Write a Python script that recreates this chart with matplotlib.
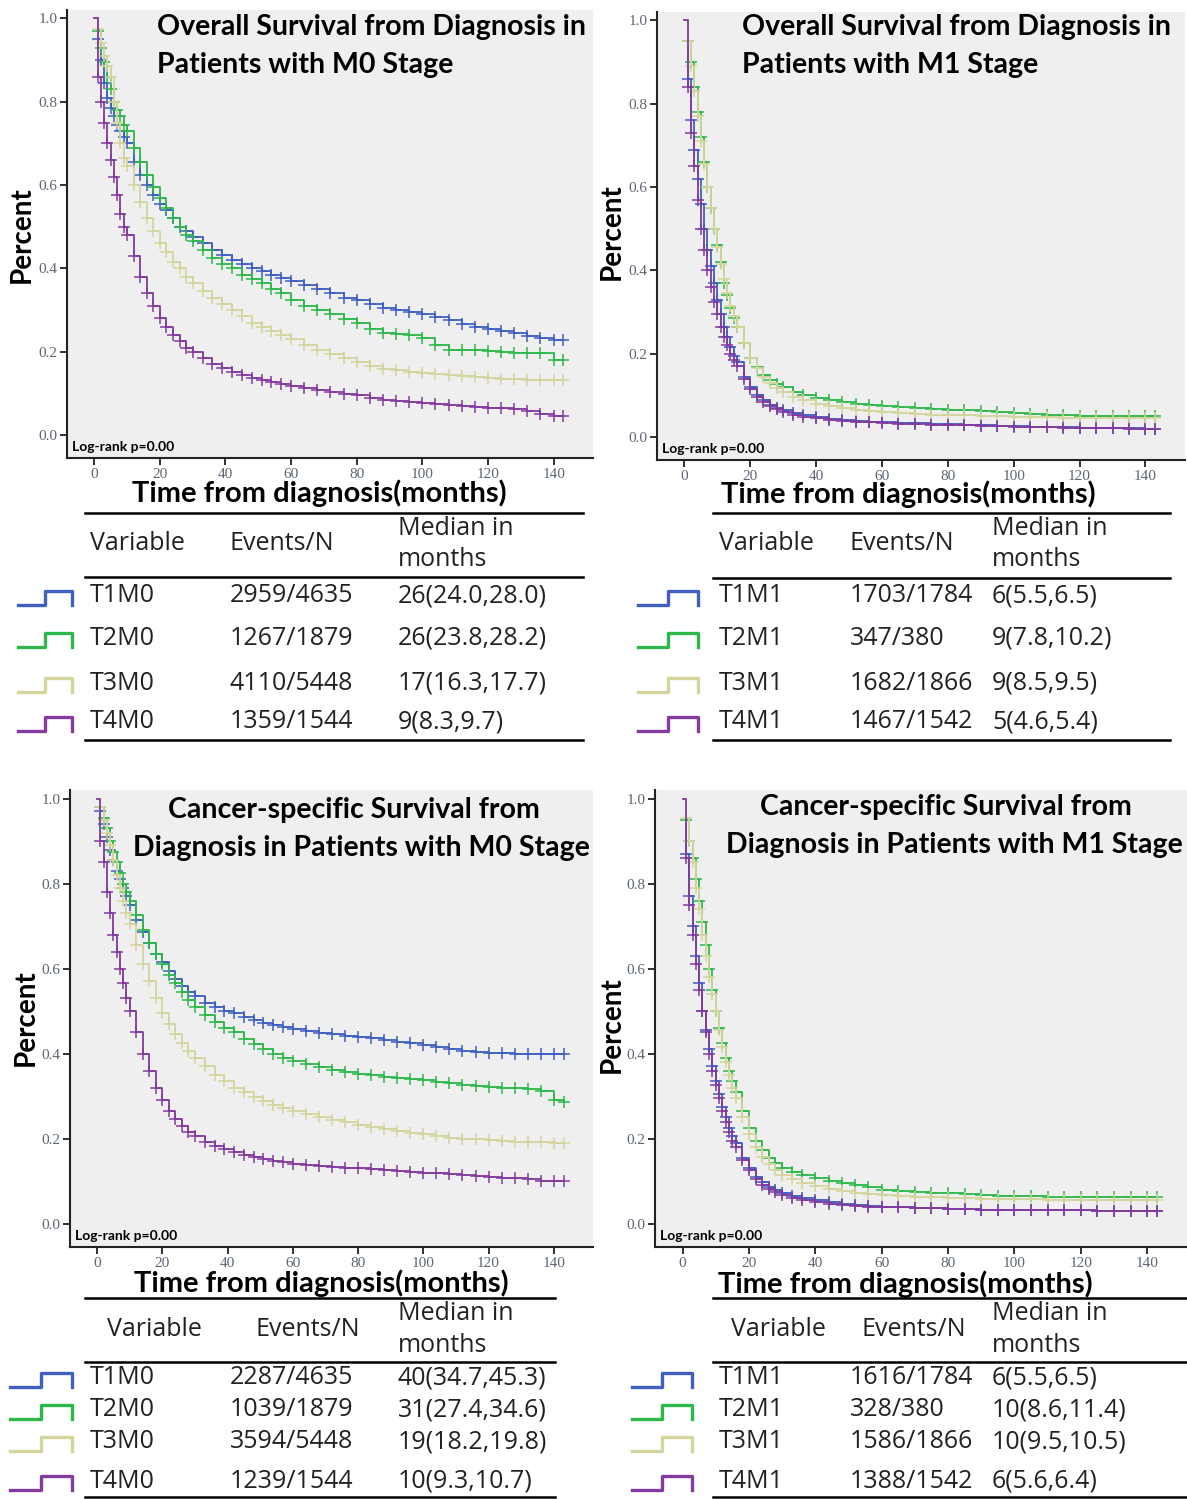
import numpy as np
import matplotlib
matplotlib.use('Agg')
import matplotlib.pyplot as plt
from matplotlib.lines import Line2D

# ---- survival tables (month, survival) ----
t_m0 = [0, 1, 2, 3, 4, 5, 6, 7, 8, 9, 10, 12, 14, 16, 18, 20, 22, 24, 26, 28, 30,
        33, 36, 39, 42, 45, 48, 51, 54, 57, 60, 64, 68, 72, 76, 80, 84, 88, 92, 96, 100,
        104, 108, 112, 116, 120, 124, 128, 132, 136, 140, 143]
t_m1 = [0, 1, 2, 3, 4, 5, 6, 7, 8, 9, 10, 11, 12, 13, 14, 15, 16, 18, 20, 22, 24, 26, 28, 30,
        33, 36, 40, 44, 48, 52, 56, 60, 65, 70, 75, 80, 85, 90, 95, 100,
        105, 110, 115, 120, 125, 130, 135, 140, 143]

# overall survival, M0
os_m0_t1 = [1.0, 0.95, 0.90, 0.845, 0.81, 0.785, 0.765, 0.745, 0.73, 0.715, 0.70, 0.655, 0.625, 0.60,
            0.575, 0.555, 0.54, 0.52, 0.50, 0.49, 0.475, 0.46, 0.445, 0.432, 0.42, 0.41, 0.40, 0.393,
            0.385, 0.377, 0.37, 0.36, 0.35, 0.34, 0.33, 0.323, 0.315, 0.305, 0.30, 0.295, 0.29,
            0.283, 0.275, 0.267, 0.26, 0.255, 0.25, 0.245, 0.238, 0.233, 0.228, 0.227]
os_m0_t2 = [1.0, 0.97, 0.93, 0.895, 0.86, 0.83, 0.80, 0.78, 0.765, 0.745, 0.73, 0.69, 0.655, 0.625,
            0.595, 0.57, 0.545, 0.52, 0.50, 0.48, 0.465, 0.445, 0.425, 0.41, 0.40, 0.385, 0.375, 0.365,
            0.35, 0.34, 0.325, 0.31, 0.30, 0.29, 0.278, 0.27, 0.255, 0.246, 0.243, 0.24, 0.232,
            0.215, 0.205, 0.203, 0.203, 0.202, 0.20, 0.198, 0.197, 0.196, 0.18, 0.18]
os_m0_t3 = [1.0, 0.975, 0.94, 0.91, 0.885, 0.86, 0.80, 0.75, 0.70, 0.665, 0.645, 0.60, 0.56, 0.52,
            0.49, 0.46, 0.44, 0.415, 0.40, 0.38, 0.365, 0.345, 0.33, 0.315, 0.30, 0.285, 0.27, 0.26,
            0.25, 0.24, 0.23, 0.215, 0.205, 0.195, 0.185, 0.175, 0.165, 0.158, 0.155, 0.152, 0.15,
            0.147, 0.145, 0.142, 0.14, 0.137, 0.135, 0.134, 0.133, 0.132, 0.132, 0.132]
os_m0_t4 = [1.0, 0.86, 0.80, 0.75, 0.70, 0.66, 0.62, 0.575, 0.53, 0.50, 0.48, 0.43, 0.38, 0.34,
            0.31, 0.28, 0.26, 0.24, 0.225, 0.21, 0.20, 0.185, 0.17, 0.16, 0.152, 0.145, 0.137, 0.132,
            0.127, 0.122, 0.118, 0.112, 0.107, 0.103, 0.099, 0.095, 0.09, 0.085, 0.082, 0.079, 0.077,
            0.074, 0.072, 0.07, 0.068, 0.066, 0.064, 0.062, 0.057, 0.05, 0.045, 0.045]

# overall survival, M1
os_m1_t1 = [1.0, 0.86, 0.76, 0.69, 0.62, 0.56, 0.50, 0.45, 0.41, 0.37, 0.33, 0.295, 0.265, 0.24,
            0.215, 0.195, 0.18, 0.145, 0.12, 0.10, 0.088, 0.078, 0.07, 0.064, 0.057, 0.052, 0.047,
            0.043, 0.04, 0.038, 0.036, 0.035, 0.034, 0.033, 0.032, 0.031, 0.03, 0.028, 0.027, 0.026,
            0.025, 0.024, 0.023, 0.022, 0.022, 0.021, 0.021, 0.02, 0.02]
os_m1_t2 = [1.0, 0.95, 0.90, 0.84, 0.78, 0.72, 0.66, 0.60, 0.55, 0.50, 0.46, 0.42, 0.37, 0.34,
            0.31, 0.285, 0.265, 0.225, 0.19, 0.168, 0.15, 0.138, 0.128, 0.12, 0.108, 0.10, 0.093,
            0.088, 0.084, 0.08, 0.077, 0.074, 0.072, 0.07, 0.068, 0.066, 0.064, 0.062, 0.06, 0.058,
            0.055, 0.053, 0.052, 0.05, 0.05, 0.05, 0.05, 0.05, 0.05]
os_m1_t3 = [1.0, 0.95, 0.89, 0.83, 0.77, 0.71, 0.655, 0.60, 0.55, 0.50, 0.455, 0.415, 0.38, 0.345,
            0.315, 0.29, 0.265, 0.225, 0.19, 0.165, 0.145, 0.13, 0.118, 0.108, 0.097, 0.088, 0.08,
            0.074, 0.07, 0.066, 0.063, 0.06, 0.058, 0.056, 0.054, 0.053, 0.052, 0.05, 0.05, 0.049,
            0.048, 0.047, 0.046, 0.045, 0.045, 0.045, 0.045, 0.045, 0.045]
os_m1_t4 = [1.0, 0.84, 0.73, 0.65, 0.57, 0.50, 0.45, 0.40, 0.36, 0.325, 0.295, 0.265, 0.24, 0.22,
            0.20, 0.185, 0.17, 0.14, 0.115, 0.097, 0.085, 0.075, 0.067, 0.06, 0.054, 0.049, 0.045,
            0.042, 0.039, 0.037, 0.035, 0.033, 0.032, 0.031, 0.03, 0.029, 0.028, 0.027, 0.026, 0.025,
            0.024, 0.023, 0.022, 0.022, 0.021, 0.021, 0.02, 0.02, 0.02]

# cancer-specific survival, M0
css_m0_t1 = [1.0, 0.97, 0.94, 0.91, 0.88, 0.855, 0.83, 0.81, 0.79, 0.77, 0.75, 0.715, 0.685, 0.66,
             0.635, 0.615, 0.595, 0.575, 0.56, 0.545, 0.535, 0.52, 0.51, 0.50, 0.495, 0.487, 0.48,
             0.473, 0.467, 0.462, 0.458, 0.452, 0.448, 0.445, 0.442, 0.44, 0.436, 0.432, 0.428, 0.424,
             0.42, 0.415, 0.41, 0.407, 0.404, 0.402, 0.401, 0.40, 0.40, 0.40, 0.40, 0.40]
css_m0_t2 = [1.0, 0.98, 0.955, 0.93, 0.90, 0.875, 0.85, 0.825, 0.80, 0.78, 0.76, 0.725, 0.69, 0.66,
             0.635, 0.61, 0.585, 0.565, 0.545, 0.525, 0.51, 0.49, 0.475, 0.46, 0.45, 0.435, 0.422,
             0.41, 0.40, 0.39, 0.383, 0.375, 0.368, 0.362, 0.357, 0.353, 0.35, 0.345, 0.342, 0.34,
             0.337, 0.333, 0.33, 0.327, 0.324, 0.322, 0.32, 0.318, 0.316, 0.313, 0.29, 0.285]
css_m0_t3 = [1.0, 0.98, 0.95, 0.92, 0.89, 0.855, 0.82, 0.79, 0.76, 0.73, 0.705, 0.655, 0.61, 0.57,
             0.53, 0.495, 0.47, 0.445, 0.425, 0.405, 0.39, 0.37, 0.35, 0.335, 0.32, 0.31, 0.298,
             0.288, 0.279, 0.272, 0.265, 0.257, 0.25, 0.244, 0.238, 0.233, 0.228, 0.222, 0.217, 0.213,
             0.21, 0.205, 0.202, 0.2, 0.198, 0.196, 0.194, 0.193, 0.192, 0.191, 0.19, 0.19]
css_m0_t4 = [1.0, 0.90, 0.85, 0.78, 0.73, 0.68, 0.64, 0.60, 0.565, 0.53, 0.50, 0.45, 0.40, 0.36,
             0.32, 0.29, 0.265, 0.245, 0.23, 0.215, 0.205, 0.192, 0.182, 0.175, 0.168, 0.162, 0.157,
             0.152, 0.148, 0.144, 0.14, 0.137, 0.135, 0.133, 0.131, 0.13, 0.128, 0.126, 0.124, 0.122,
             0.12, 0.118, 0.116, 0.114, 0.112, 0.11, 0.108, 0.107, 0.105, 0.1, 0.1, 0.1]

# cancer-specific survival, M1
css_m1_t1 = [1.0, 0.87, 0.77, 0.70, 0.63, 0.565, 0.50, 0.455, 0.41, 0.37, 0.335, 0.305, 0.275, 0.25,
             0.225, 0.205, 0.19, 0.155, 0.13, 0.11, 0.097, 0.087, 0.078, 0.072, 0.065, 0.06, 0.055,
             0.05, 0.047, 0.044, 0.042, 0.04, 0.038, 0.037, 0.036, 0.035, 0.034, 0.033, 0.033, 0.032,
             0.032, 0.031, 0.031, 0.031, 0.03, 0.03, 0.03, 0.03, 0.03]
css_m1_t2 = [1.0, 0.95, 0.90, 0.86, 0.81, 0.76, 0.71, 0.655, 0.60, 0.55, 0.50, 0.46, 0.425, 0.39,
             0.36, 0.335, 0.31, 0.265, 0.225, 0.195, 0.172, 0.155, 0.142, 0.132, 0.122, 0.114, 0.107,
             0.1, 0.095, 0.09, 0.085, 0.08, 0.077, 0.075, 0.073, 0.072, 0.07, 0.068, 0.066, 0.065,
             0.064, 0.063, 0.063, 0.062, 0.062, 0.062, 0.062, 0.062, 0.062]
css_m1_t3 = [1.0, 0.955, 0.90, 0.85, 0.79, 0.74, 0.68, 0.63, 0.58, 0.54, 0.50, 0.455, 0.415, 0.38,
             0.35, 0.32, 0.295, 0.25, 0.21, 0.18, 0.157, 0.14, 0.126, 0.115, 0.104, 0.096, 0.088,
             0.082, 0.077, 0.073, 0.07, 0.067, 0.065, 0.063, 0.062, 0.061, 0.06, 0.059, 0.058, 0.057,
             0.057, 0.056, 0.056, 0.055, 0.055, 0.055, 0.055, 0.055, 0.055]
css_m1_t4 = [1.0, 0.86, 0.75, 0.68, 0.61, 0.55, 0.50, 0.45, 0.40, 0.36, 0.325, 0.295, 0.265, 0.24,
             0.215, 0.195, 0.18, 0.15, 0.125, 0.105, 0.092, 0.082, 0.074, 0.067, 0.06, 0.055, 0.05,
             0.047, 0.044, 0.042, 0.04, 0.039, 0.038, 0.037, 0.036, 0.035, 0.034, 0.033, 0.033, 0.032,
             0.032, 0.031, 0.031, 0.031, 0.03, 0.03, 0.03, 0.03, 0.03]

# ---- summary tables ----
vars_m0 = ['T1M0', 'T2M0', 'T3M0', 'T4M0']
vars_m1 = ['T1M1', 'T2M1', 'T3M1', 'T4M1']
os_m0_events = ['2959/4635', '1267/1879', '4110/5448', '1359/1544']
os_m0_median = ['26(24.0,28.0)', '26(23.8,28.2)', '17(16.3,17.7)', '9(8.3,9.7)']
os_m1_events = ['1703/1784', '347/380', '1682/1866', '1467/1542']
os_m1_median = ['6(5.5,6.5)', '9(7.8,10.2)', '9(8.5,9.5)', '5(4.6,5.4)']
css_m0_events = ['2287/4635', '1039/1879', '3594/5448', '1239/1544']
css_m0_median = ['40(34.7,45.3)', '31(27.4,34.6)', '19(18.2,19.8)', '10(9.3,10.7)']
css_m1_events = ['1616/1784', '328/380', '1586/1866', '1388/1542']
css_m1_median = ['6(5.5,6.5)', '10(8.6,11.4)', '10(9.5,10.5)', '6(5.6,6.4)']

colors = ['#3f5fc2', '#2eb84c', '#d3d59c', '#843a9f']

W, H = 1187, 1499
fig = plt.figure(figsize=(W / 100, H / 100), dpi=100)

TITLE_FONT = 'Lato'
TABLE_FONT = 'Open Sans'
TABLE_SIZE = 18


def fx(x):
    return x / W


def fy(y):
    return 1 - y / H


def fig_line(xs, ys, **kw):
    fig.add_artist(Line2D([fx(v) for v in xs], [fy(v) for v in ys],
                          transform=fig.transFigure, **kw))


def panel(rect, t, curves):
    left, top, right, bottom = rect
    ax = fig.add_axes([fx(left), fy(bottom), (right - left) / W, (bottom - top) / H])
    ax.set_facecolor('#efefef')
    for s, c in zip(curves, colors):
        ax.step(t, s, where='post', color=c, lw=1.3)
        ax.plot(t[1:], s[1:], ls='none', marker='+', ms=9, mew=1.1, color=c)
    ax.set_xlim(-8.3, 152)
    ax.set_ylim(-0.055, 1.02)
    ax.set_xticks(range(0, 141, 20))
    ax.set_yticks([0, 0.2, 0.4, 0.6, 0.8, 1.0])
    ax.set_yticklabels(['0.0', '0.2', '0.4', '0.6', '0.8', '1.0'])
    for sp in ['top', 'right']:
        ax.spines[sp].set_visible(False)
    for sp in ['left', 'bottom']:
        ax.spines[sp].set_linewidth(1.5)
        ax.spines[sp].set_color('#222222')
    ax.tick_params(direction='out', length=5, width=1.3, color='#222222',
                   labelcolor='#5c6673', labelsize=11, pad=2)
    for lab in ax.get_xticklabels() + ax.get_yticklabels():
        lab.set_family('Liberation Serif')
    ax.text(0.01, 0.012, 'Log-rank p=0.00', transform=ax.transAxes, fontsize=10,
            fontweight='bold', family=TITLE_FONT, ha='left', va='bottom')
    return ax


def table(x0, x1, y_lines, head_x, head_y, col_x, row_y, icon_x, names, events, medians):
    for y in y_lines:
        fig_line([x0, x1], [y, y], color='black', lw=1.8)
    hy1, hy2, hy3 = head_y
    kw = dict(ha='left', va='center', fontsize=TABLE_SIZE, family=TABLE_FONT, color='#222222')
    fig.text(fx(head_x[0]), fy(hy1), 'Variable', **kw)
    fig.text(fx(head_x[1]), fy(hy1), 'Events/N', **kw)
    fig.text(fx(head_x[2]), fy(hy2), 'Median in', **kw)
    fig.text(fx(head_x[2]), fy(hy3), 'months', **kw)
    for y, n, e, m, c in zip(row_y, names, events, medians, colors):
        for x, s in zip(col_x, [n, e, m]):
            fig.text(fx(x), fy(y), s, **kw)
        ix0, ix1 = icon_x
        ixm = (ix0 + ix1) / 2
        fig_line([ix0, ixm, ixm, ix1, ix1], [y + 9, y + 9, y - 5, y - 5, y + 9],
                 color=c, lw=2.4)


def titles(lines, xlabel_xy, ylabel_xy, ha):
    for (x, y, s) in lines:
        fig.text(fx(x), fy(y), s, ha=ha, va='center', fontsize=20.5,
                 fontweight='bold', family=TITLE_FONT)
    fig.text(fx(xlabel_xy[0]), fy(xlabel_xy[1]), 'Time from diagnosis(months)', ha='center',
             va='center', fontsize=21, fontweight='bold', family=TITLE_FONT)
    fig.text(fx(ylabel_xy[0]), fy(ylabel_xy[1]), 'Percent', ha='center', va='center',
             rotation=90, fontsize=20, fontweight='bold', family=TITLE_FONT)


# top-left: OS M0
panel((67, 10, 593, 458), t_m0, [os_m0_t1, os_m0_t2, os_m0_t3, os_m0_t4])
titles([(157, 27, 'Overall Survival from Diagnosis in'), (157, 65, 'Patients with M0 Stage')],
       (319, 493), (22, 235), 'left')
table(85, 583, [513, 577, 740], [90, 230, 398], [544, 528, 560], [90, 230, 398],
      [596, 638, 683, 722], (18, 72), vars_m0, os_m0_events, os_m0_median)

# top-right: OS M1
panel((657, 12, 1185, 460), t_m1, [os_m1_t1, os_m1_t2, os_m1_t3, os_m1_t4])
titles([(742, 27, 'Overall Survival from Diagnosis in'), (742, 65, 'Patients with M1 Stage')],
       (908, 494), (612, 232), 'left')
table(713, 1170, [513, 578, 740], [719, 850, 992], [544, 528, 560], [719, 850, 992],
      [596, 638, 683, 722], (638, 698), vars_m1, os_m1_events, os_m1_median)

# bottom-left: CSS M0
panel((70, 790, 593, 1247), t_m0, [css_m0_t1, css_m0_t2, css_m0_t3, css_m0_t4])
titles([(354, 810, 'Cancer-specific Survival from'),
        (361, 848, 'Diagnosis in Patients with M0 Stage')],
       (321, 1283), (26, 1018), 'center')
table(85, 555, [1298, 1362, 1497], [107, 255, 398], [1330, 1313, 1345], [90, 230, 398],
      [1378, 1410, 1442, 1481], (10, 72), vars_m0, css_m0_events, css_m0_median)

# bottom-right: CSS M1
panel((655, 790, 1187, 1247), t_m1, [css_m1_t1, css_m1_t2, css_m1_t3, css_m1_t4])
titles([(946, 807, 'Cancer-specific Survival from'),
        (954, 845, 'Diagnosis in Patients with M1 Stage')],
       (905, 1284), (612, 1025), 'center')
table(713, 1187, [1298, 1362, 1497], [731, 862, 992], [1330, 1313, 1345], [719, 850, 992],
      [1378, 1410, 1442, 1481], (632, 692), vars_m1, css_m1_events, css_m1_median)

fig.savefig('out.png', dpi=100, facecolor='white')
